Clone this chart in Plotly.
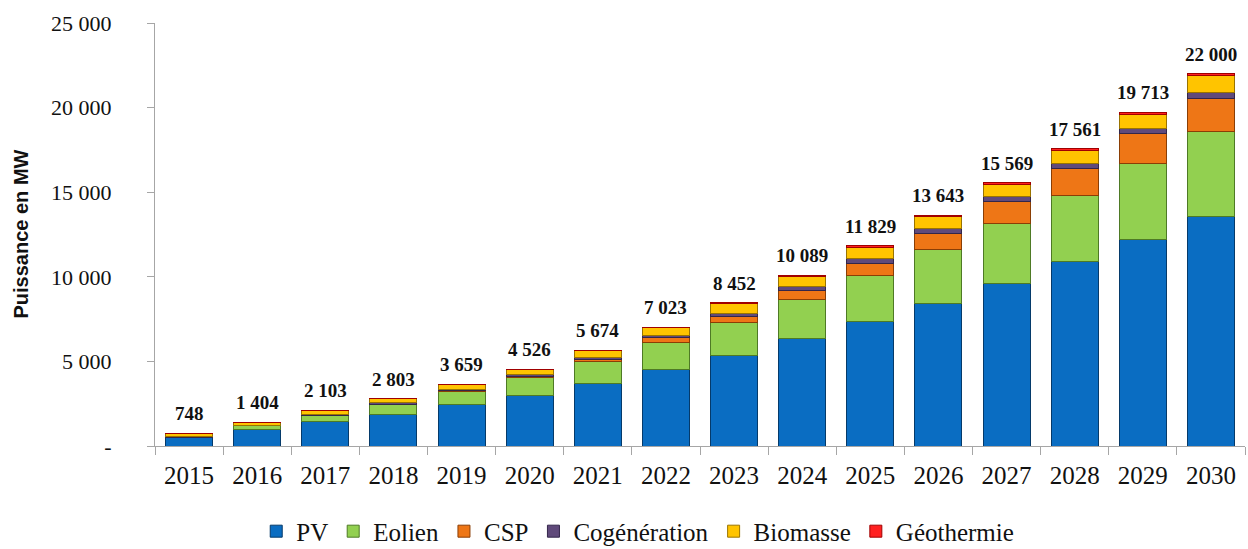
import plotly.graph_objects as go

years = [str(y) for y in range(2015, 2031)]

pv = [480, 1000, 1430, 1880, 2470, 2960, 3690, 4530, 5350, 6330, 7370, 8450, 9630, 10880, 12180, 13550]
eolien = [40, 200, 400, 600, 760, 1080, 1330, 1570, 1960, 2310, 2700, 3140, 3530, 3940, 4530, 5040]
csp = [0, 0, 0, 0, 30, 50, 100, 290, 350, 530, 730, 980, 1270, 1590, 1760, 1920]
cogeneration = [20, 40, 60, 70, 100, 110, 140, 140, 200, 250, 260, 300, 290, 300, 290, 390]
biomasse = [200, 160, 200, 240, 280, 300, 380, 450, 540, 607, 700, 693, 760, 750, 840, 975]
geothermie = [8, 4, 13, 13, 19, 26, 34, 43, 52, 62, 69, 80, 89, 101, 113, 125]

totals = [748, 1404, 2103, 2803, 3659, 4526, 5674, 7023, 8452, 10089, 11829, 13643, 15569, 17561, 19713, 22000]

y_tickvals = [0, 5000, 10000, 15000, 20000, 25000]
y_ticktext = ["-", "5 000", "10 000", "15 000", "20 000", "25 000"]

series = [
    ("PV", pv, "#0A6DC2", "#053A6A"),
    ("Eolien", eolien, "#92D050", "#4E7A25"),
    ("CSP", csp, "#EE7616", "#8A3E05"),
    ("Cogénération", cogeneration, "#604A7B", "#33264A"),
    ("Biomasse", biomasse, "#FFC400", "#9A7400"),
    ("Géothermie", geothermie, "#FF2020", "#A00000"),
]

SERIF = "Liberation Serif, Times New Roman, serif"
SANS = "Liberation Sans, Arial, sans-serif"

fig = go.Figure()
for name, vals, col, edge in series:
    fig.add_trace(go.Bar(
        x=years, y=vals, name=name,
        marker=dict(color=col, line=dict(color=edge, width=1)),
    ))

def fmt(v):
    return f"{v:,}".replace(",", " ")

for i, t in enumerate(totals):
    fig.add_annotation(
        x=i, y=t, text=f"<b>{fmt(t)}</b>", showarrow=False,
        yanchor="bottom", yshift=7,
        font=dict(family=SERIF, size=19, color="#111111"),
    )

fig.add_annotation(
    x=(20 - 155) / 1090, y=0.5, xref="paper", yref="paper",
    text="<b>Puissance en MW</b>", textangle=-90, showarrow=False,
    xanchor="center", yanchor="middle",
    font=dict(family=SANS, size=20, color="#111111"),
)

fig.update_layout(
    barmode="stack",
    bargap=0.31,
    width=1248, height=549,
    margin=dict(l=155, r=3, t=23, b=103, autoexpand=False),
    paper_bgcolor="white", plot_bgcolor="white",
    showlegend=True,
    legend=dict(
        orientation="h", xref="container", yref="container",
        x=0.511, xanchor="center", y=0.032, yanchor="middle",
        font=dict(family=SERIF, size=25, color="#111111"),
        itemwidth=30, traceorder="normal",
    ),
    xaxis=dict(
        type="category", showgrid=False, range=[-0.5, len(years) - 0.5],
        showline=True, linecolor="#A6A6A6", linewidth=1,
        ticks="outside", tickson="boundaries", ticklen=8, tickcolor="#A6A6A6",
        tickangle=0, automargin=False, ticklabelstandoff=7,
        tickfont=dict(family=SERIF, size=25, color="#111111"),
    ),
    yaxis=dict(
        range=[0, 25000], tickvals=y_tickvals, ticktext=y_ticktext,
        showgrid=False, zeroline=False, automargin=False,
        showline=True, linecolor="#A6A6A6", linewidth=1,
        ticks="outside", ticklen=7, tickcolor="#A6A6A6",
        ticklabelstandoff=31,
        tickfont=dict(family=SERIF, size=22, color="#111111"),
    ),
)

fig.write_html(
    "out.html",
    config={"displayModeBar": False},
    post_script="document.body.style.margin='0';document.body.style.overflow='hidden';",
)
